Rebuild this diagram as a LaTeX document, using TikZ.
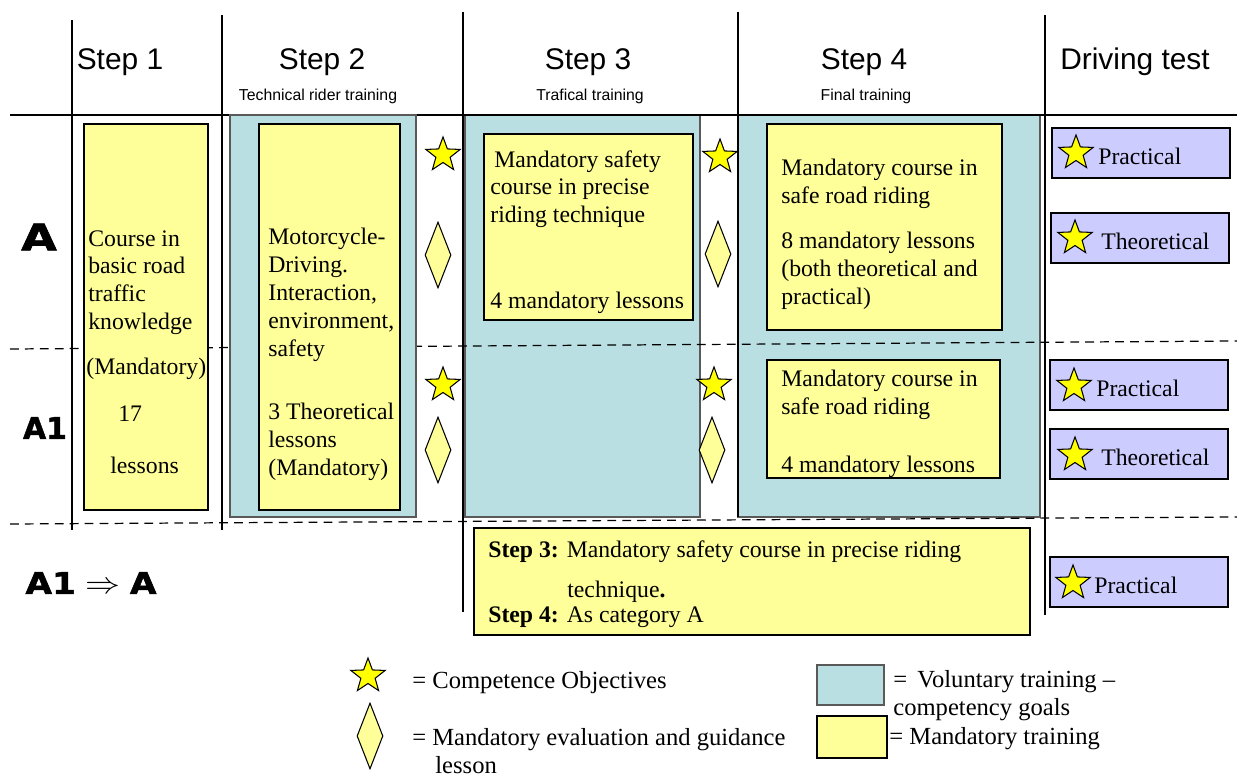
\documentclass[tikz,border=0pt]{standalone}
\usepackage{fontspec}
\setmainfont{Liberation Serif}
\newfontfamily\headfont{Liberation Sans}
\newfontfamily\catfont{DejaVu Sans}[BoldFeatures={FakeBold=1.6}]
\usetikzlibrary{shapes.geometric, positioning}

\definecolor{mandyellow}{HTML}{FFFF99}
\definecolor{volblue}{HTML}{B9DFE2}
\definecolor{testlilac}{HTML}{CCCCFF}
\definecolor{staryellow}{HTML}{FFFF00}

\tikzset{
  rule/.style={line width=0.6pt},
  rowsplit/.style={line width=0.7pt, dash pattern=on 5pt off 3.5pt},
  mandbox/.style={draw=black, fill=mandyellow, line width=0.8pt},
  volbox/.style={draw=black!65, fill=volblue, line width=0.9pt},
  testbox/.style={draw=black, fill=testlilac, line width=0.8pt},
  goal/.style={star, star points=5, star point ratio=2.4, draw=black, fill=staryellow,
    minimum size=0.72cm, inner sep=0pt, line width=0.6pt},
  evalmark/.style={diamond, draw=black, fill=mandyellow, minimum width=0.52cm,
    minimum height=1.32cm, inner sep=0pt, line width=0.6pt},
  head/.style={font=\headfont\fontsize{17}{20}\selectfont, inner sep=0pt},
  sub/.style={font=\headfont\fontsize{9}{11}\selectfont, inner sep=0pt},
  cat/.style={font=\catfont\bfseries\fontsize{17}{20}\selectfont, inner sep=0pt},
  txt/.style={font=\fontsize{13.5}{15.9}\selectfont, align=left, inner sep=0pt, anchor=north west},
  legtxt/.style={txt, font=\fontsize{14}{15.9}\selectfont},
}

\begin{document}
\begin{tikzpicture}[x=0.02cm, y=-0.02cm]
\useasboundingbox (0,0) rectangle (1237,780);

% voluntary blocks of step 3 and 4
\draw[volbox] (465,115) rectangle (700,517);
\draw[volbox] (738,115) rectangle (1040,517);

% row lines
\draw[line width=0.9pt] (10,115) -- (1237,115);
\draw[rowsplit] (10,349) -- (1237,341);
\draw[rowsplit] (10,524) -- (1237,517);

% step 1 and step 2 blocks cover the dashes
\draw[mandbox] (84,124) rectangle (208,510);
\draw[volbox] (230,115) rectangle (416,517);
\draw[mandbox] (259,124) rectangle (400,510);

% column lines
\draw[rule] (72,20) -- (72,530);
\draw[rule] (222,15) -- (222,530);
\draw[rule] (463,12) -- (463,612);
\draw[rule] (738,12) -- (738,517);
\draw[rule] (1045,15) -- (1045,615);

% headings
\node[head] (h1) at (120,62) {Step 1};
\node[head] (h2) at (322,62) {Step 2};
\node[head] (h3) at (588,62) {Step 3};
\node[head] (h4) at (864,62) {Step 4};
\node[head] (h5) at (1135,62) {Driving test};
\node[sub] (h2sub) at (318,96) {Technical rider training};
\node[sub] (h3sub) at (590,96) {Trafical training};
\node[sub] (h4sub) at (866,96) {Final training};

% categories
\node[cat, font=\catfont\bfseries\fontsize{21}{24}\selectfont] (rowA) at (39,237) {\scalebox{1.25}[1]{A}};
\node[cat] (rowAone) at (45,428) {A1};
\node[cat] (rowAup) at (91,583) {\scalebox{1.15}[1]{A1\;{\normalfont$\Rightarrow$}\;A}};

% step 1
\node[txt] (s1a) at (88,230) {Course in\\basic road\\traffic\\knowledge};
\node[txt] (s1b) at (86,358) {(Mandatory)};
\node[txt] (s1c) at (118,405) {17};
\node[txt] (s1d) at (110,457) {lessons};

% step 2
\node[txt] (s2a) at (268,228) {Motorcycle-\\Driving.\\Interaction,\\environment,\\safety\\[20pt]3 Theoretical\\lessons\\(Mandatory)};

% step 3
\draw[mandbox] (484,134) rectangle (693,320);
\node[txt] (s3a) at (490,150) {\,Mandatory safety\\course in precise\\riding technique};
\node[txt] (s3b) at (490,292) {4 mandatory lessons};

% step 4
\draw[mandbox] (767,124) rectangle (1002,330);
\node[txt] (s4a) at (781,159) {Mandatory course in\\safe road riding};
\node[txt] (s4b) at (781,232) {8 mandatory lessons\\(both theoretical and\\practical)};
\draw[mandbox] (767,360) rectangle (1000,478);
\node[txt] (s4c) at (781,370) {Mandatory course in\\safe road riding};
\node[txt] (s4d) at (781,456) {4 mandatory lessons};

% objectives and evaluations between steps
\node[goal] (g2A) at (443,155) {};
\node[evalmark] (e2A) at (438,255) {};
\node[goal] (g2B) at (443,385) {};
\node[evalmark] (e2B) at (438,450) {};
\node[goal] (g3A) at (720,157) {};
\node[evalmark] (e3A) at (718,254) {};
\node[goal] (g3B) at (714,385) {};
\node[evalmark] (e3B) at (712,450) {};

% driving tests
\draw[testbox] (1052,128) rectangle (1230,178);
\node[goal] (tA1) at (1076,153) {};
\node[txt, anchor=west] (tA1t) at (1098,156) {Practical};
\draw[testbox] (1051,213) rectangle (1229,263);
\node[goal] (tA2) at (1075,238) {};
\node[txt, anchor=west] (tA2t) at (1101,241) {Theoretical};
\draw[testbox] (1050,360) rectangle (1228,410);
\node[goal] (tB1) at (1074,386) {};
\node[txt, anchor=west] (tB1t) at (1096,388) {Practical};
\draw[testbox] (1050,429) rectangle (1228,479);
\node[goal] (tB2) at (1075,455) {};
\node[txt, anchor=west] (tB2t) at (1101,457) {Theoretical};
\draw[testbox] (1050,557) rectangle (1228,607);
\node[goal] (tC1) at (1073,583) {};
\node[txt, anchor=west] (tC1t) at (1094,585) {Practical};

% upgrade A1 to A
\draw[mandbox] (474,528) rectangle (1030,635);
\node[txt, anchor=west] (upa) at (488,552) {\textbf{Step 3:} Mandatory safety course in precise riding};
\node[txt, anchor=west] (upb) at (567,592) {technique\textbf{.}};
\node[txt, anchor=west] (upc) at (488,617) {\textbf{Step 4:} As category A};

% legend
\node[goal] (lgoal) at (368,676) {};
\node[legtxt, anchor=west] (lgoalt) at (412,683) {= Competence Objectives};
\node[evalmark] (leval) at (370,736) {};
\node[legtxt, anchor=west] (levalt) at (412,740) {= Mandatory evaluation and guidance};
\node[legtxt, anchor=west] (levalu) at (435,765) {lesson};
\draw[volbox] (817,665) rectangle (884,705);
\node[legtxt] (lvol) at (893,670) {= \,Voluntary training --\\competency goals};
\draw[mandbox] (817,716) rectangle (887,758);
\node[legtxt, anchor=west] (lmand) at (889,739) {= Mandatory training};
\end{tikzpicture}
\end{document}
